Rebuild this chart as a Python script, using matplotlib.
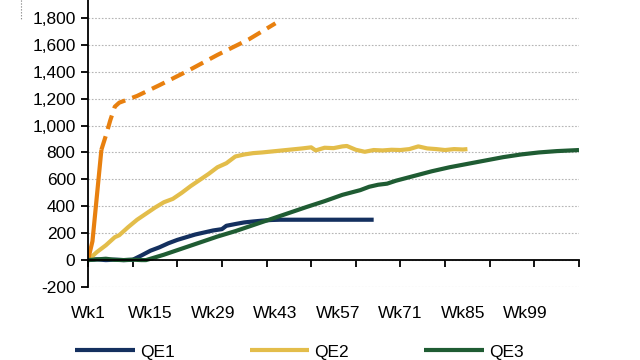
import matplotlib
matplotlib.use("Agg")
import matplotlib.pyplot as plt
from matplotlib.lines import Line2D
from matplotlib.ticker import FixedLocator, FuncFormatter, NullFormatter

plt.rcParams['font.family'] = ['Liberation Sans', 'DejaVu Sans']

# weekly cumulative purchases
qe1_wk = [1, 3, 5, 7, 9, 11, 13, 15, 17, 19, 21, 23, 25, 27, 29, 31, 32, 34, 36, 38, 40, 42, 44, 50, 56, 62, 65]
qe1 = [0, 5, 0, 3, 0, 2, 35, 70, 95, 125, 150, 170, 190, 205, 220, 230, 255, 268, 280, 287, 293, 298, 300, 300, 300, 300, 300]

qe2_wk = [1, 3, 5, 7, 8, 10, 12, 14, 16, 18, 20, 22, 24, 26, 28, 30, 32, 34, 36, 38, 40, 43, 46, 49,
          51, 52, 54, 56, 58, 59, 61, 63, 65, 67, 69, 71, 73, 75, 77, 79, 81, 83, 85, 86]
qe2 = [0, 60, 110, 170, 185, 245, 300, 345, 390, 430, 455, 500, 550, 595, 640, 690, 720, 770, 785, 795, 800, 810, 820, 830,
       838, 815, 835, 832, 845, 848, 820, 805, 818, 815, 820, 818, 825, 845, 830, 825, 818, 825, 822, 825]

qe3_wk = [1, 3, 5, 7, 9, 11, 13, 14, 18, 22, 26, 30, 34, 38, 42, 46, 50, 54, 58, 62, 64, 66, 68, 70,
          74, 78, 82, 86, 90, 94, 98, 102, 106, 111]
qe3 = [0, 5, 10, 2, 0, 3, 0, 0, 40, 85, 130, 175, 215, 260, 305, 350, 395, 438, 485, 520, 545, 560, 568, 590,
       625, 660, 690, 715, 740, 765, 785, 800, 810, 818]

qe4_wk = [1, 2, 4]
qe4 = [0, 140, 820]
qe4_proj_wk = [4, 5, 6, 7, 8, 10, 12, 17, 23, 30, 37, 43]
qe4_proj = [820, 925, 1040, 1140, 1170, 1195, 1220, 1300, 1400, 1525, 1640, 1760]

tick_wk = list(range(1, 112, 10))
label_wk = list(range(1, 100, 14))
labels = ['Wk%d' % w for w in label_wk]

navy = '#14305f'
yellow = '#e3bd4a'
green = '#1f5c33'
orange = '#e8800f'

fig = plt.figure(figsize=(6.4, 3.6), dpi=100)
ax = fig.add_axes([88 / 640, 73 / 360, 491 / 640, 296 / 360])

lw = 3.0
ax.plot(qe1_wk, qe1, color=navy, lw=lw, label='QE1', solid_capstyle='butt')
ax.plot(qe2_wk, qe2, color=yellow, lw=lw, label='QE2', solid_capstyle='butt')
ax.plot(qe4_wk, qe4, color=orange, lw=lw, solid_capstyle='butt')
ax.plot(qe4_proj_wk, qe4_proj, color=orange, lw=lw, dashes=(3.4, 1.8), dash_capstyle='butt')
ax.plot(qe3_wk, qe3, color=green, lw=lw, label='QE3', solid_capstyle='butt')

ax.set_xlim(1, 111)
ax.set_ylim(-200, 2000)
ax.set_yticks(range(-200, 1801, 200))
ax.yaxis.set_major_formatter(FuncFormatter(lambda v, p: '{:,.0f}'.format(v)))
ax.grid(axis='y', color='#b5b5b5', ls=(0, (1.5, 1.5)), lw=0.8)
ax.set_axisbelow(True)

for s in ['top', 'right']:
    ax.spines[s].set_visible(False)
ax.spines['bottom'].set_position(('data', 0))
ax.spines['left'].set_linewidth(1.3)
ax.spines['bottom'].set_linewidth(1.3)

ax.xaxis.remove_overlapping_locs = False
ax.xaxis.set_major_locator(FixedLocator(tick_wk))
ax.xaxis.set_major_formatter(NullFormatter())
ax.xaxis.set_minor_locator(FixedLocator(label_wk))
ax.set_xticklabels(labels, minor=True)
ax.tick_params(axis='x', which='major', direction='out', length=5, width=1.3)
ax.tick_params(axis='x', which='minor', length=0, pad=33, labelsize=12.5)
ax.tick_params(axis='y', direction='out', length=5, width=1.3, pad=4, labelsize=12.5)

fig.legend(loc='center left', bbox_to_anchor=(75 / 640, 1 - 352 / 360), ncol=3, frameon=False,
           fontsize=12.5, handlelength=3.45, handletextpad=0.3, columnspacing=4.3,
           borderpad=0, borderaxespad=0)

fig.add_artist(Line2D([21 / 640, 21 / 640], [1, 1 - 20 / 360], ls=':', color='#777777', lw=0.8))

fig.savefig('out.png', dpi=100)
